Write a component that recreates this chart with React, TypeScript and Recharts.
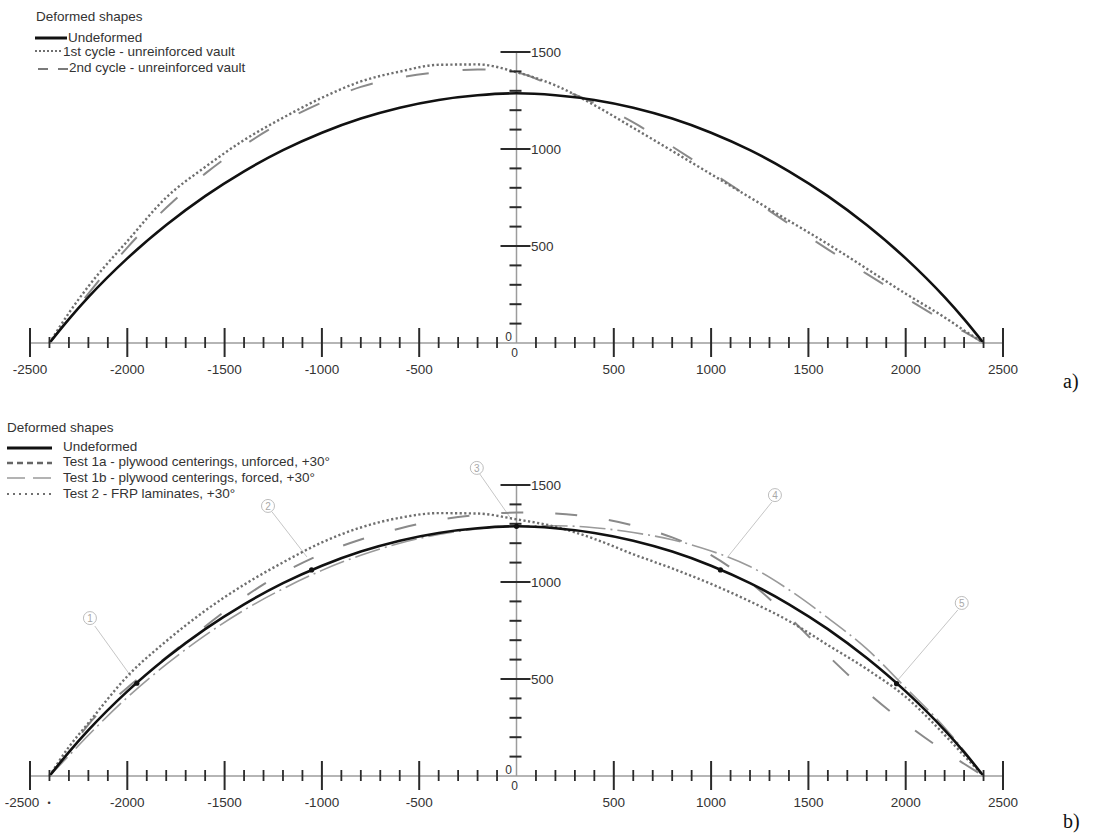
import React from 'react';
import { LineChart, Line, XAxis, YAxis, ReferenceLine, ReferenceDot, Legend } from 'recharts';

// ---------- data (mm) ----------
const X_MM = [-2400, -2300, -2200, -2000, -1800, -1600, -1400, -1200, -1000, -800, -600, -400, -200, 0, 200, 400, 600, 800, 1000, 1200, 1400, 1600, 1800, 2000, 2200, 2300, 2400];
const UNDEFORMED_MM = [0, 123, 236, 436, 608, 757, 885, 994, 1084, 1157, 1213, 1253, 1277, 1287, 1277, 1253, 1213, 1157, 1084, 994, 885, 757, 608, 436, 236, 123, 0];
const CYCLE1_MM = [0, 155, 292, 525, 750, 907, 1046, 1161, 1264, 1348, 1399, 1434, 1436, 1396, 1328, 1226, 1109, 990, 870, 750, 630, 510, 383, 254, 132, 65, 0];
const CYCLE2_MM = [0, 128, 255, 492, 697, 873, 1019, 1141, 1240, 1320, 1368, 1396, 1410, 1394, 1319, 1238, 1137, 1013, 882, 748, 614, 483, 356, 232, 113, 58, 0];
const TEST1A_MM = [0, 130, 265, 455, 612, 771, 922, 1047, 1145, 1219, 1276, 1320, 1346, 1358, 1353, 1332, 1291, 1230, 1139, 999, 820, 621, 434, 271, 128, 63, 0];
const TEST1B_MM = [0, 105, 210, 405, 575, 725, 855, 965, 1060, 1138, 1200, 1245, 1274, 1290, 1290, 1280, 1255, 1218, 1160, 1080, 960, 815, 655, 455, 250, 130, 0];
const TEST2_MM = [0, 150, 273, 514, 695, 852, 986, 1101, 1204, 1281, 1331, 1355, 1353, 1323, 1285, 1222, 1143, 1070, 990, 900, 799, 675, 551, 408, 212, 105, 0];

const X_TICKS = Array.from({ length: 51 }, (_, i) => -2500 + i * 100);
const Y_TICKS = Array.from({ length: 15 }, (_, i) => 100 + i * 100);

const LEGEND_TITLE = 'Deformed shapes';
const TOP_LABELS = ['Undeformed', '1st cycle - unreinforced vault', '2nd cycle - unreinforced vault'];
const BOTTOM_LABELS = [
  'Undeformed',
  'Test 1a - plywood centerings, unforced, +30°',
  'Test 1b - plywood centerings, forced, +30°',
  'Test 2 - FRP laminates, +30°',
];

// measurement points on the undeformed profile (bottom panel)
const POINT_X = [-1951, -1053, 0, 1048, 1953];
const POINT_Y = [478, 1062, 1287, 1062, 476];
const CALLOUT_TEXT = ['1', '2', '3', '4', '5'];
const CALLOUT_X = [-2192, -1277, -204, 1328, 2288];
const CALLOUT_Y = [814, 1392, 1588, 1448, 892];
const LEADER_FROM_X = [-2167, -1256, -189, 1312, 2268];
const LEADER_FROM_Y = [773, 1361, 1557, 1412, 856];
const LEADER_TO_X = [-1982, -1077, -24, 1081, 1960];
const LEADER_TO_Y = [515, 1129, 1320, 1124, 495];

const topData = X_MM.map((x, i) => ({ x, undeformed: UNDEFORMED_MM[i], cycle1: CYCLE1_MM[i], cycle2: CYCLE2_MM[i] }));
const bottomData = X_MM.map((x, i) => ({ x, undeformed: UNDEFORMED_MM[i], test1a: TEST1A_MM[i], test1b: TEST1B_MM[i], test2: TEST2_MM[i] }));

// ---------- styles ----------
const FONT = '"Liberation Sans", Arial, Helvetica, sans-serif';
const TXT = '#333';
const AXIS_GREY = '#9c9c9c';
const TICK_DARK = '#2a2a2a';

const STY = {
  undeformed: { stroke: '#111', strokeWidth: 2.6, dash: undefined as string | undefined },
  dotted: { stroke: '#6f6f6f', strokeWidth: 2.4, dash: '2.2 2.4' },
  longDash: { stroke: '#8a8a8a', strokeWidth: 2, dash: '23 34' },
  test1a: { stroke: '#8a8a8a', strokeWidth: 2, dash: '22 32' },
  test1b: { stroke: '#9a9a9a', strokeWidth: 1.6, dash: '26 5 2 5' },
};

const renderXTick = (p: any, panel: 'a' | 'b') => {
  const { x, y, payload } = p;
  const v = payload.value;
  if (v === 0) {
    return (
      <g fontFamily={FONT} fontSize={12} fill={TXT}>
        <text x={x - 8} y={y - 2.2} textAnchor="middle">0</text>
        <text x={x - 2} y={y + 13.8} textAnchor="middle">0</text>
      </g>
    );
  }
  const major = v % 500 === 0;
  let label: React.ReactNode = null;
  if (major) {
    if (panel === 'b' && v === -2500) {
      label = (
        <g>
          <text x={x - 8} y={y + 31} textAnchor="middle" fontFamily={FONT} fontSize={13.5} fill={TXT}>{v}</text>
          <text x={x + 19} y={y + 30} textAnchor="middle" fontFamily={FONT} fontSize={9} fill={TXT}>•</text>
        </g>
      );
    } else {
      label = <text x={x} y={y + 31} textAnchor="middle" fontFamily={FONT} fontSize={13.5} fill={TXT}>{v}</text>;
    }
  }
  return (
    <g>
      <line x1={x} x2={x} y1={y - (major ? 15 : 6)} y2={y + (major ? 14 : 5)} stroke={TICK_DARK} strokeWidth={major ? 2 : 1.8} />
      {label}
    </g>
  );
};

const yTickShape = (v: number) => (p: any) => {
  const major = v % 500 === 0;
  return (
    <g>
      <line x1={p.cx - (major ? 16 : 7)} x2={p.cx + (major ? 14 : 5)} y1={p.cy} y2={p.cy} stroke={TICK_DARK} strokeWidth={2} />
      {major && (
        <text x={p.cx + 14.5} y={p.cy + 4.8} fontFamily={FONT} fontSize={13.5} fill={TXT}>{v}</text>
      )}
    </g>
  );
};

const YAxisAtZero = () => null;

const legendLine = (x1: number, x2: number, y: number, s: { stroke: string; strokeWidth: number; dash?: string }) => (
  <line x1={x1} x2={x2} y1={y} y2={y} stroke={s.stroke} strokeWidth={s.strokeWidth} strokeDasharray={s.dash} />
);

const TopLegend = () => (
  <svg width={420} height={90} style={{ display: 'block' }}>
    <g fontFamily={FONT} fontSize={13.5} fill={TXT}>
      <text x={36} y={21}>{LEGEND_TITLE}</text>
      {legendLine(35, 67, 38, { stroke: '#111', strokeWidth: 3 })}
      <text x={68} y={41.5}>{TOP_LABELS[0]}</text>
      {legendLine(35, 62, 51, { stroke: '#6f6f6f', strokeWidth: 2.2, dash: '2 2' })}
      <text x={63} y={56}>{TOP_LABELS[1]}</text>
      {legendLine(38, 68, 69, { stroke: '#7a7a7a', strokeWidth: 2, dash: '10 10' })}
      <text x={69} y={72.3}>{TOP_LABELS[2]}</text>
    </g>
  </svg>
);

const BottomLegend = () => (
  <svg width={420} height={110} style={{ display: 'block' }}>
    <g fontFamily={FONT} fontSize={13.5} fill={TXT}>
      <text x={7} y={31.5}>{LEGEND_TITLE}</text>
      {legendLine(7, 52, 48, { stroke: '#111', strokeWidth: 3 })}
      <text x={63} y={51.3}>{BOTTOM_LABELS[0]}</text>
      {legendLine(7, 52, 63, { stroke: '#666', strokeWidth: 2.5, dash: '6 4' })}
      <text x={63} y={66.3}>{BOTTOM_LABELS[1]}</text>
      {legendLine(7, 52, 78, { stroke: '#9a9a9a', strokeWidth: 1.6, dash: '18 8' })}
      <text x={63} y={81.6}>{BOTTOM_LABELS[2]}</text>
      {legendLine(7, 52, 94, { stroke: '#707070', strokeWidth: 2.2, dash: '2 4' })}
      <text x={63} y={97.6}>{BOTTOM_LABELS[3]}</text>
    </g>
  </svg>
);

const commonAxes = (panel: 'a' | 'b') => [
  <XAxis
    key="xa"
    dataKey="x"
    type="number"
    domain={[-2500, 2500]}
    ticks={X_TICKS}
    interval={0}
    height={30}
    tickSize={0}
    tickMargin={0}
    tickLine={false}
    axisLine={{ stroke: AXIS_GREY, strokeWidth: 1.5 }}
    tick={(p: any) => renderXTick(p, panel)}
  />,
  <YAxis key="ya" type="number" domain={[0, 1500]} hide />,
  <ReferenceLine key="yline" x={0} stroke={AXIS_GREY} strokeWidth={1.5} />,
  ...Y_TICKS.map((v) => (
    <ReferenceDot key={'yt' + v} x={0} y={v} r={1} ifOverflow="visible" shape={yTickShape(v)} />
  )),
];

export default function App() {
  return (
    <div style={{ position: 'absolute', left: 0, top: 0, width: 1096, height: 834, background: '#fff', overflow: 'hidden' }}>
      <div style={{ position: 'absolute', left: 0, top: 0 }}>
        <LineChart width={1096} height={400} data={topData} margin={{ top: 52, right: 93, bottom: 27, left: 30 }}>
          {commonAxes('a')}
          <Line type="monotone" dataKey="cycle2" stroke={STY.longDash.stroke} strokeWidth={STY.longDash.strokeWidth} strokeDasharray={STY.longDash.dash} dot={false} activeDot={false} isAnimationActive={false} />
          <Line type="monotone" dataKey="cycle1" stroke={STY.dotted.stroke} strokeWidth={STY.dotted.strokeWidth} strokeDasharray={STY.dotted.dash} dot={false} activeDot={false} isAnimationActive={false} />
          <Line type="monotone" dataKey="undeformed" stroke={STY.undeformed.stroke} strokeWidth={STY.undeformed.strokeWidth} dot={false} activeDot={false} isAnimationActive={false} />
          <Legend layout="horizontal" verticalAlign="middle" align="center" wrapperStyle={{ position: 'absolute', left: 0, top: 0, width: 420, height: 90 }} content={() => <TopLegend />} />
        </LineChart>
      </div>
      <div style={{ position: 'absolute', left: 0, top: 400 }}>
        <LineChart width={1096} height={434} data={bottomData} margin={{ top: 85, right: 93, bottom: 28, left: 30 }}>
          {commonAxes('b')}
          {LEADER_FROM_X.map((fx, i) => (
            <ReferenceLine
              key={'ld' + i}
              segment={[{ x: fx, y: LEADER_FROM_Y[i] }, { x: LEADER_TO_X[i], y: LEADER_TO_Y[i] }]}
              stroke="#c6c6c6"
              strokeWidth={1}
              ifOverflow="visible"
            />
          ))}
          <Line type="monotone" dataKey="test1b" stroke={STY.test1b.stroke} strokeWidth={STY.test1b.strokeWidth} strokeDasharray={STY.test1b.dash} dot={false} activeDot={false} isAnimationActive={false} />
          <Line type="monotone" dataKey="test1a" stroke={STY.test1a.stroke} strokeWidth={STY.test1a.strokeWidth} strokeDasharray={STY.test1a.dash} dot={false} activeDot={false} isAnimationActive={false} />
          <Line type="monotone" dataKey="test2" stroke={STY.dotted.stroke} strokeWidth={STY.dotted.strokeWidth} strokeDasharray={STY.dotted.dash} dot={false} activeDot={false} isAnimationActive={false} />
          <Line type="monotone" dataKey="undeformed" stroke={STY.undeformed.stroke} strokeWidth={STY.undeformed.strokeWidth} dot={false} activeDot={false} isAnimationActive={false} />
          {POINT_X.map((px, i) => (
            <ReferenceDot key={'pt' + i} x={px} y={POINT_Y[i]} r={2.6} fill="#111" stroke="none" ifOverflow="visible" />
          ))}
          {CALLOUT_X.map((cx, i) => (
            <ReferenceDot
              key={'co' + i}
              x={cx}
              y={CALLOUT_Y[i]}
              r={6.5}
              ifOverflow="visible"
              shape={(p: any) => (
                <g>
                  <circle cx={p.cx} cy={p.cy} r={6.5} fill="#fff" stroke="#bdbdbd" strokeWidth={1} />
                  <text x={p.cx} y={p.cy + 3.6} textAnchor="middle" fontFamily={FONT} fontSize={10} fill="#a8a8a8">{CALLOUT_TEXT[i]}</text>
                </g>
              )}
            />
          ))}
          <Legend layout="horizontal" verticalAlign="middle" align="center" wrapperStyle={{ position: 'absolute', left: 0, top: 0, width: 420, height: 110 }} content={() => <BottomLegend />} />
        </LineChart>
      </div>
      <div style={{ position: 'absolute', left: 1063, top: 369, fontFamily: '"Liberation Serif", "Times New Roman", serif', fontSize: 20, lineHeight: '24px', color: '#111' }}>a)</div>
      <div style={{ position: 'absolute', left: 1063, top: 809, fontFamily: '"Liberation Serif", "Times New Roman", serif', fontSize: 20, lineHeight: '24px', color: '#111' }}>b)</div>
    </div>
  );
}
